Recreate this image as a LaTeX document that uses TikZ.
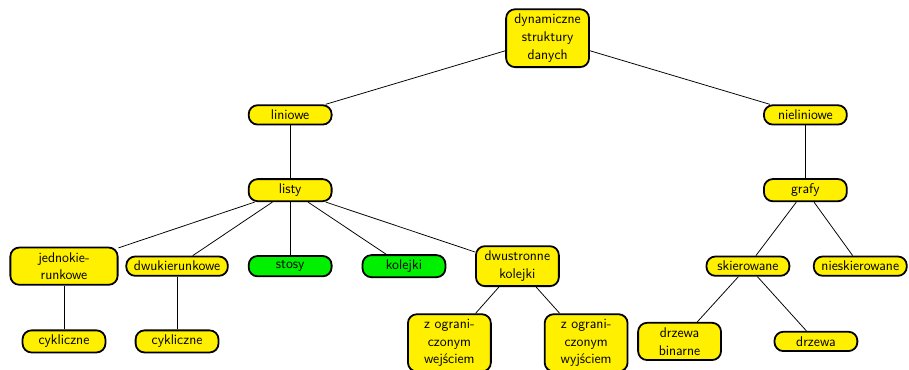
\documentclass[tikz,border=0pt]{standalone}
\usepackage{tikz}
\usetikzlibrary{positioning}
\definecolor{ink}{HTML}{000000}
\definecolor{boxyellow}{HTML}{FFF000}
\definecolor{boxgreen}{HTML}{00F000}
\tikzset{
  ycard/.style={draw=ink,fill=boxyellow,line width=1.4pt,rounded corners=7pt,
                align=center,inner xsep=6pt,inner ysep=3.7pt,
                minimum width=2.28cm,
                font=\sffamily\fontsize{11}{14}\selectfont},
  gcard/.style={ycard,fill=boxgreen},
  link/.style={draw=ink,line width=0.6pt}
}

\begin{document}
\begin{tikzpicture}[x=1cm,y=1cm]
    \path[use as bounding box] (0,0) rectangle (25.00,10.15);
    % top
    \node[ycard] (root) at (15.06,9.10) {dynamiczne\\struktury\\danych};
    \node[ycard] (lin) at (7.98,6.99) {liniowe};
    \node[ycard] (nlin) at (22.15,6.99) {nieliniowe};
    \node[ycard] (listy) at (7.98,4.92) {listy};
    \node[ycard] (grafy) at (22.15,4.92) {grafy};

    % lists
    \node[ycard,minimum width=2.95cm] (jedno) at (1.76,2.83)
      {jednokie-\\runkowe};
    \node[ycard] (dwuk) at (4.87,2.83) {dwukierunkowe};
    \node[gcard] (stosy) at (7.98,2.83) {stosy};
    \node[gcard] (kol) at (11.11,2.83) {kolejki};
    \node[ycard] (dwus) at (14.23,2.83) {dwustronne\\kolejki};
    \node[ycard] (cyk1) at (1.76,0.76) {cykliczne};
    \node[ycard] (cyk2) at (4.87,0.76) {cykliczne};
    \node[ycard] (wej) at (12.36,0.72) {z ograni-\\czonym\\wejściem};
    \node[ycard] (wyj) at (16.12,0.72) {z ograni-\\czonym\\wyjściem};

    % graphs
    \node[ycard] (skier) at (20.57,2.83) {skierowane};
    \node[ycard] (nskier) at (23.66,2.83) {nieskierowane};
    \node[ycard] (bin) at (18.69,0.76) {drzewa\\binarne};
    \node[ycard] (drz) at (22.44,0.76) {drzewa};

    \draw[link] (root) -- (lin);
    \draw[link] (root) -- (nlin);
    \draw[link] (lin) -- (listy);
    \draw[link] (nlin) -- (grafy);
    \foreach \kid in {jedno,dwuk,stosy,kol,dwus}
      \draw[link] (listy) -- (\kid);
    \draw[link] (jedno) -- (cyk1);
    \draw[link] (dwuk) -- (cyk2);
    \draw[link] (dwus) -- (wej);
    \draw[link] (dwus) -- (wyj);
    \draw[link] (grafy) -- (skier);
    \draw[link] (grafy) -- (nskier);
    \draw[link] (skier) -- (bin);
    \draw[link] (skier) -- (drz);
  \end{tikzpicture}
\end{document}
